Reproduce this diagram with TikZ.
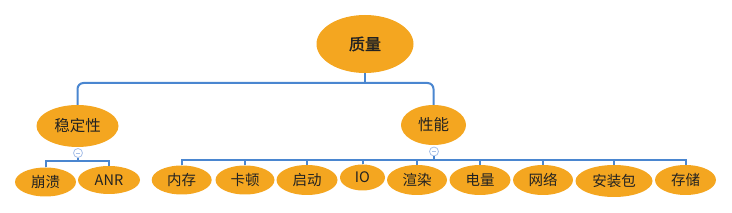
\documentclass[tikz,border=0pt]{standalone}
\usepackage{fontspec}
\setmainfont{Noto Sans CJK SC}
\newfontfamily\rootfont{Noto Sans CJK SC}[FakeBold=1.5]
\usetikzlibrary{shapes.geometric}
\definecolor{nodeorange}{HTML}{F4A620}
\definecolor{linkblue}{HTML}{4A86D0}
\definecolor{minusblue}{HTML}{A8C0E8}
\definecolor{textdark}{HTML}{222222}
\tikzset{
  topic/.style={ellipse, fill=nodeorange, draw=none, inner sep=0pt, text=textdark, font=\fontsize{14.5}{15}\selectfont},
  conn/.style={draw=linkblue, line width=2pt},
  foldmark/.style={circle, draw=minusblue, fill=white, line width=0.8pt, minimum size=9pt, inner sep=0pt}
}
\begin{document}
\begin{tikzpicture}[x=1pt,y=-1pt]
\path[use as bounding box] (0,0) rectangle (732,213);
% nodes
\node[topic, minimum width=97pt, minimum height=58pt, font=\fontsize{16}{17}\selectfont\rootfont] (root) at (365,44) {质量};
\node[topic, minimum width=82pt, minimum height=42pt, font=\fontsize{15.5}{16}\selectfont] (stab) at (77.5,126) {稳定性};
\node[topic, minimum width=65pt, minimum height=40pt, font=\fontsize{15.5}{16}\selectfont] (perf) at (433.5,125) {性能};
\node[topic, minimum width=61pt, minimum height=29pt] (crash) at (45.5,182) {崩溃};
\node[topic, minimum width=62pt, minimum height=28pt] (anr) at (109,180) {ANR};
\node[topic, minimum width=60pt, minimum height=29pt] (mem) at (181.7,180) {内存};
\node[topic, minimum width=59pt, minimum height=29pt] (lag) at (245,180) {卡顿};
\node[topic, minimum width=61pt, minimum height=30pt] (boot) at (307,180) {启动};
\node[topic, minimum width=45pt, minimum height=26pt] (io) at (362.5,177.5) {IO};
\node[topic, minimum width=60pt, minimum height=30pt] (render) at (417,180) {渲染};
\node[topic, minimum width=61pt, minimum height=30pt] (power) at (480,180) {电量};
\node[topic, minimum width=60pt, minimum height=30pt] (net) at (543,180) {网络};
\node[topic, minimum width=77pt, minimum height=32pt] (apk) at (614,181) {安装包};
\node[topic, minimum width=61pt, minimum height=30pt] (store) at (685.5,180) {存储};
% fold marks
\node[foldmark] (foldA) at (78,153) {};
\draw[minusblue, line width=0.8pt] ([xshift=-2.2pt]foldA.center) -- ([xshift=2.2pt]foldA.center);
\node[foldmark] (foldB) at (434,151.5) {};
\draw[minusblue, line width=0.8pt] ([xshift=-2.2pt]foldB.center) -- ([xshift=2.2pt]foldB.center);
% junctions
\coordinate (rj) at (365,83);
\coordinate (sj) at (78,161.5);
\coordinate (pj) at (434,160);
% connectors
\begin{scope}[on background layer/.style={}]
\draw[conn] (root.south) -- (rj);
\draw[conn, rounded corners=6pt] (stab.north) |- (rj) -| (perf.north);
\draw[conn] (foldA.south) -- (sj);
\draw[conn] (crash.north) |- (sj) -| (anr.north);
\draw[conn] (foldB.south) -- (pj);
\draw[conn] (mem.north) |- (pj) -| (store.north);
\foreach \n in {lag,boot,io,render,power,net,apk}
  \draw[conn] (\n.north) -- (\n.north |- pj);
\end{scope}
\end{tikzpicture}
\end{document}
